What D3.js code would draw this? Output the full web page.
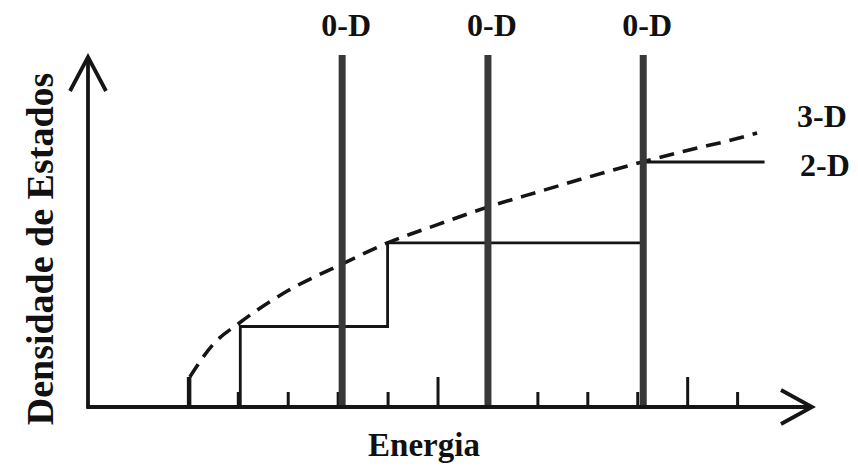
<!DOCTYPE html>
<html>
<head>
<meta charset="utf-8">
<script src="https://cdn.jsdelivr.net/npm/d3@7"></script>
<style>
  html, body { margin: 0; padding: 0; background: #ffffff; }
  svg { display: block; }
  text { font-family: "Liberation Serif", "Times New Roman", serif; font-weight: bold; fill: #111; }
</style>
</head>
<body>
<svg id="chart" width="858" height="466"></svg>
<script>
// Energy tick positions along the horizontal axis
const majorTicks = [1, 6, 11];
const minorTicks = [2, 3, 4, 5, 7, 8, 9, 10, 12];

// 0-D: discrete levels (delta functions)
const levels0D = [4.09, 7.01, 10.12];
const top0D = 10.06;

// 2-D: staircase density of states
const stepEnergies2D = [2.05, 5.0, 10.12];
const stepHeights2D = [2.3, 4.69, 7.0];
const end2D = 12.55;

// 3-D: square-root-like density of states (dashed)
const curveEnergies3D = [1.04, 1.5, 2.05, 3.0, 4.05, 5.0, 6.0, 7.0, 8.0, 9.0, 10.1, 11.0, 12.0, 12.4];
const curveDensity3D  = [0.86, 1.78, 2.42, 3.32, 4.06, 4.69, 5.21, 5.71, 6.14, 6.56, 7.0, 7.33, 7.67, 7.83];

const svg = d3.select("#chart");
const x = d3.scaleLinear().domain([-1, 13.5]).range([88, 812]);
const y = d3.scaleLinear().domain([0, 10]).range([407, 57]);
const x0 = x(-1), y0 = y(0);
const ink = "#151515";

// Tick marks (pointing upward from the energy axis)
svg.append("g")
  .attr("transform", `translate(0,${y0})`)
  .call(d3.axisTop(x).tickValues(minorTicks).tickSize(15).tickFormat(""))
  .call(g => g.select(".domain").remove())
  .call(g => g.selectAll("line").attr("stroke", ink).attr("stroke-width", 3));
svg.append("g")
  .attr("transform", `translate(0,${y0})`)
  .call(d3.axisTop(x).tickValues(majorTicks).tickSize(30).tickFormat(""))
  .call(g => g.select(".domain").remove())
  .call(g => g.selectAll("line").attr("stroke", ink).attr("stroke-width", 3));

// 2-D staircase
const stairs = [[stepEnergies2D[0], 0]];
stepEnergies2D.forEach((e, i) => {
  if (i > 0) stairs.push([e, stepHeights2D[i - 1]]);
  stairs.push([e, stepHeights2D[i]]);
});
stairs.push([end2D, stepHeights2D[stepHeights2D.length - 1]]);
svg.append("path")
  .datum(stairs)
  .attr("fill", "none")
  .attr("stroke", ink)
  .attr("stroke-width", 2.8)
  .attr("d", d3.line().x(d => x(d[0])).y(d => y(d[1])));

// 3-D curve: solid onset, then dashed
const pts3D = curveEnergies3D.map((e, i) => [e, curveDensity3D[i]]);
svg.append("path")
  .datum([[curveEnergies3D[0], 0], pts3D[0]])
  .attr("fill", "none").attr("stroke", ink).attr("stroke-width", 3)
  .attr("d", d3.line().x(d => x(d[0])).y(d => y(d[1])));
svg.append("path")
  .datum(pts3D)
  .attr("fill", "none")
  .attr("stroke", ink)
  .attr("stroke-width", 3.6)
  .attr("stroke-dasharray", "15,9")
  .attr("d", d3.line().curve(d3.curveMonotoneX).x(d => x(d[0])).y(d => y(d[1])));

// 0-D levels
svg.selectAll("line.level")
  .data(levels0D)
  .join("line")
  .attr("class", "level")
  .attr("x1", d => x(d)).attr("x2", d => x(d))
  .attr("y1", y0).attr("y2", y(top0D))
  .attr("stroke", "#383838")
  .attr("stroke-width", 7);
svg.selectAll("text.lab0")
  .data(levels0D)
  .join("text")
  .attr("class", "lab0")
  .attr("x", d => x(d) + 4)
  .attr("y", 36)
  .attr("text-anchor", "middle")
  .attr("font-size", 32)
  .text("0-D");

// Axes with open arrowheads
svg.append("line").attr("x1", x0).attr("x2", x0).attr("y1", y0 + 1.5).attr("y2", y(10))
  .attr("stroke", ink).attr("stroke-width", 3.8);
svg.append("path")
  .attr("d", `M${x0 - 18},${y(10) + 34} L${x0},${y(10)} L${x0 + 18},${y(10) + 34}`)
  .attr("fill", "none").attr("stroke", ink).attr("stroke-width", 3.8);
svg.append("line").attr("x1", x0 - 1.5).attr("x2", x(13.5)).attr("y1", y0).attr("y2", y0)
  .attr("stroke", ink).attr("stroke-width", 3.8);
svg.append("path")
  .attr("d", `M${x(13.5) - 31},${y0 - 17} L${x(13.5)},${y0} L${x(13.5) - 31},${y0 + 17}`)
  .attr("fill", "none").attr("stroke", ink).attr("stroke-width", 3.8);

// Series labels
svg.append("text").attr("x", 797).attr("y", 127).attr("font-size", 32).text("3-D");
svg.append("text").attr("x", 800).attr("y", 176).attr("font-size", 32).text("2-D");

// Axis titles
svg.append("text")
  .attr("x", 424).attr("y", 456)
  .attr("text-anchor", "middle")
  .attr("font-size", 33)
  .text("Energia");
svg.append("text")
  .attr("transform", "translate(53,249) rotate(-90)")
  .attr("text-anchor", "middle")
  .attr("font-size", 38)
  .text("Densidade de Estados");
</script>
</body>
</html>
